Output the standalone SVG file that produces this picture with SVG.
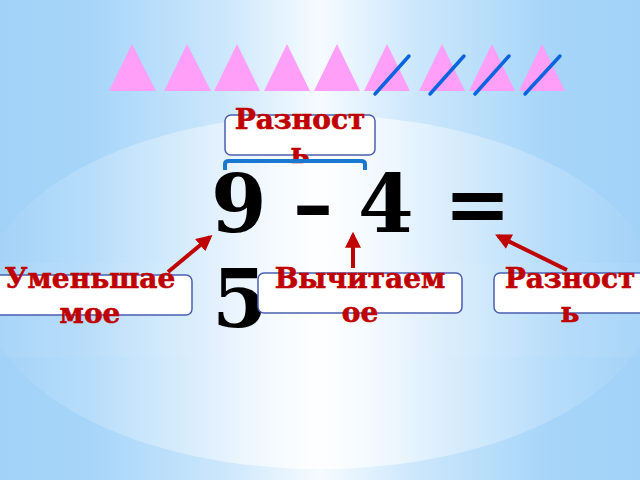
<svg xmlns="http://www.w3.org/2000/svg" width="640" height="480" viewBox="0 0 640 480">
<defs>
<linearGradient id="bg" x1="0" y1="0" x2="1" y2="0">
<stop offset="0" stop-color="#a2d2f8"/>
<stop offset="0.14" stop-color="#a6d5f9"/>
<stop offset="0.35" stop-color="#cce7fc"/>
<stop offset="0.5" stop-color="#f6fbff"/>
<stop offset="0.65" stop-color="#cce7fc"/>
<stop offset="0.86" stop-color="#a6d5f9"/>
<stop offset="1" stop-color="#a2d2f8"/>
</linearGradient>
<linearGradient id="ell" x1="0" y1="0" x2="1" y2="0">
<stop offset="0" stop-color="#ffffff" stop-opacity="0"/>
<stop offset="0.3" stop-color="#ffffff" stop-opacity="0.35"/>
<stop offset="0.5" stop-color="#ffffff" stop-opacity="0.8"/>
<stop offset="0.7" stop-color="#ffffff" stop-opacity="0.35"/>
<stop offset="1" stop-color="#ffffff" stop-opacity="0"/>
</linearGradient>
<marker id="ah" viewBox="0 0 10 10" refX="8" refY="5" markerWidth="4" markerHeight="4" orient="auto" markerUnits="strokeWidth">
<path d="M0,0 L10,5 L0,10 z" fill="#c00000"/>
</marker>
<style>
.tri{fill:#ff9ff8}
.slash{stroke:#0a64e0;stroke-width:3.5;stroke-linecap:round}
.box{fill:#ffffff;stroke:#4a5fb0;stroke-width:1.5}
.lbl{font-family:"DejaVu Serif",serif;font-weight:bold;font-size:28px;fill:#c00000;stroke:#c00000;stroke-width:0.6;text-anchor:middle}
.eq{font-family:"DejaVu Serif",serif;font-weight:bold;font-size:80px;fill:#000000}
.arr{stroke:#c00000;stroke-width:4;fill:none;marker-end:url(#ah)}
</style>
</defs>
<rect x="0" y="0" width="640" height="480" fill="url(#bg)"/>
<ellipse cx="320" cy="292" rx="335" ry="177" fill="url(#ell)"/>
<rect x="0" y="263" width="640" height="94" fill="#ffffff" opacity="0.05"/>

<g id="triangles">
<polygon class="tri" points="109,91 132,44 156,91"/>
<polygon class="tri" points="164,91 187,44 211,91"/>
<polygon class="tri" points="214,91 237,44 260,91"/>
<polygon class="tri" points="264,91 287,44 310,91"/>
<polygon class="tri" points="314,91 337,44 360,91"/>
<polygon class="tri" points="364,91 387,44 410,91"/>
<polygon class="tri" points="419,91 442,44 465,91"/>
<polygon class="tri" points="469,91 492,44 515,91"/>
<polygon class="tri" points="519,91 542,44 565,91"/>
<line class="slash" x1="375" y1="94" x2="409" y2="56"/>
<line class="slash" x1="430" y1="94" x2="464" y2="56"/>
<line class="slash" x1="475" y1="94" x2="509" y2="56"/>
<line class="slash" x1="525" y1="94" x2="560" y2="56"/>
</g>

<g id="top-label">
<rect class="box" x="225" y="115" width="150" height="40" rx="6"/>
<text class="lbl"><tspan x="300" y="129">Разност</tspan><tspan x="300" y="163">ь</tspan></text>
</g>

<g id="bracket">
<path d="M225,170 L225,164 Q225,161 229,161 L361,161 Q365,161 365,164 L365,170" fill="none" stroke="#1a78d0" stroke-width="4"/>
</g>

<g id="equation">
<text class="eq"><tspan x="211" y="232">9</tspan><tspan x="293" y="232">–</tspan><tspan x="358" y="232">4</tspan><tspan x="444" y="232">=</tspan><tspan x="212" y="327">5</tspan></text>
</g>

<g id="minuend">
<rect class="box" x="-10" y="275" width="202" height="40" rx="6"/>
<text class="lbl"><tspan x="90" y="288">Уменьшае</tspan><tspan x="90" y="323">мое</tspan></text>
</g>

<g id="subtrahend">
<rect class="box" x="258" y="273" width="204" height="40" rx="6"/>
<text class="lbl"><tspan x="360" y="288">Вычитаем</tspan><tspan x="360" y="322">ое</tspan></text>
</g>

<g id="difference">
<rect class="box" x="494" y="273" width="154" height="40" rx="6"/>
<text class="lbl"><tspan x="570" y="288">Разност</tspan><tspan x="570" y="322">ь</tspan></text>
</g>

<g id="connectors">
<line class="arr" x1="168" y1="272" x2="210" y2="237"/>
<line class="arr" x1="353" y1="268" x2="353" y2="235"/>
<line class="arr" x1="567" y1="270" x2="498" y2="236"/>
</g>
</svg>
